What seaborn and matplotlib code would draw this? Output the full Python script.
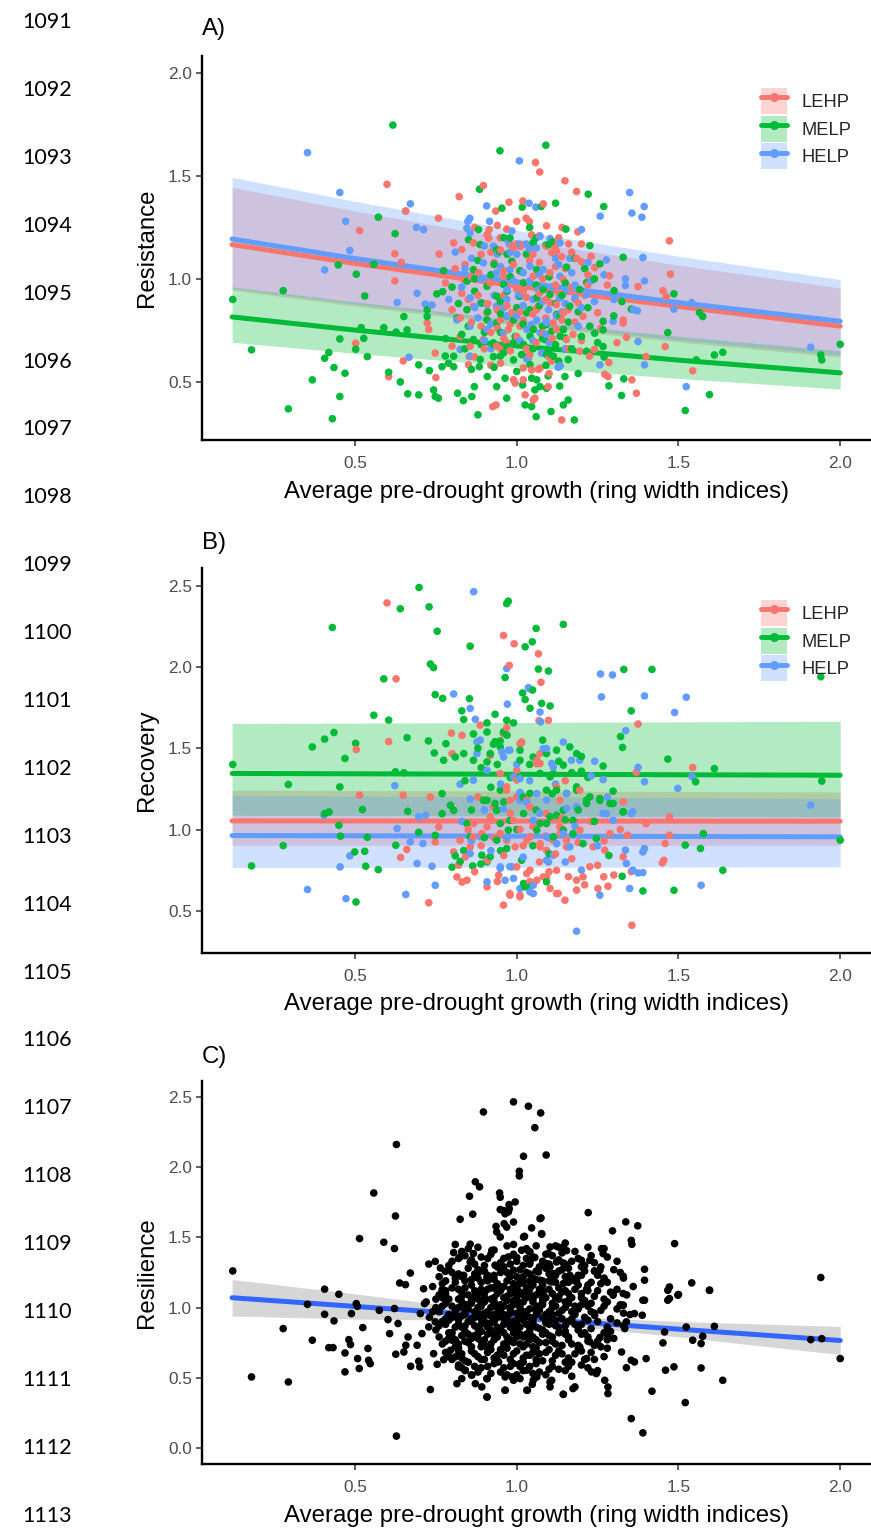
import numpy as np
import pandas as pd
import matplotlib
matplotlib.use("Agg")
import matplotlib.pyplot as plt
import seaborn as sns
from matplotlib.patches import Patch
from matplotlib.lines import Line2D

sns.set_theme(style="white")
plt.rcParams['font.family'] = ['Liberation Sans', 'DejaVu Sans']

# ---------------- DATA ----------------
groups = ["LEHP", "MELP", "HELP"]
palette = {"LEHP": "#F8766D", "MELP": "#00BA38", "HELP": "#619CFF"}

xlabel = "Average pre-drought growth (ring width indices)"
ylabels = ["Resistance", "Recovery", "Resilience"]
panel_tags = ["A)", "B)", "C)"]
xticks = [0.5, 1.0, 1.5, 2.0]
yticks_A = [0.5, 1.0, 1.5, 2.0]
yticks_B = [0.5, 1.0, 1.5, 2.0, 2.5]
yticks_C = [0.0, 0.5, 1.0, 1.5, 2.0, 2.5]
line_numbers = [str(n) for n in range(1091, 1114)]

A_LEHP = [(0.599,1.46),(0.657,1.33),(0.514,1.235),(0.758,1.295),(0.822,1.40),(0.897,1.454),(0.915,1.24),(0.91,1.214),(0.913,1.198),(0.935,1.33),(0.976,1.373),(1.058,1.566),(1.071,1.52),(1.149,1.477),(1.019,1.379),(1.029,1.295),(1.039,1.279),(1.046,1.214),(1.082,1.365),(1.092,1.258),(0.969,1.242),(1.185,1.425),(1.189,1.229),(1.472,1.185),(1.128,1.177),(1.01,1.157),(0.99,1.154),(1.108,1.128),(1.139,1.108),(1.118,1.149),(1.185,1.10),(1.20,1.084),(1.241,1.055),(1.287,1.015),(1.475,1.023),(1.375,0.963),(1.452,0.943),(1.462,0.914),(1.459,0.671),(1.329,0.80),(1.329,0.785),(1.339,0.716),(1.285,0.593),(1.272,0.536),(1.282,0.525),(1.356,0.509),(1.37,0.444),(1.544,0.553),(1.40,0.622),(1.139,0.314),(0.926,0.379),(0.936,0.387),(0.995,0.493),(1.02,0.509),(1.046,0.557),(1.097,0.476),(1.056,0.42),(1.072,0.566),(1.026,0.436),(0.623,1.122),(0.643,1.081),(0.623,0.99),(0.502,0.687),(0.604,0.525),(0.649,0.601),(0.748,0.639),(0.75,0.52),(0.851,0.582),(0.853,0.622),(1.051,0.411),
(0.805,1.175),(0.83,1.143),(0.866,1.175),(0.908,1.215),(0.949,1.20),(0.985,1.159),(1.02,1.167),(1.092,1.159),(1.123,1.134),(0.836,0.997),(0.882,1.03),(0.918,0.98),(0.959,1.013),(1.01,1.037),(1.051,1.013),(1.103,1.03),(1.144,0.997),(0.80,0.85),(0.825,0.81),(0.866,0.867),(0.908,0.835),(0.949,0.80),(0.985,0.835),(1.02,0.80),(1.062,0.85),(1.103,0.883),(1.144,0.835),(0.825,0.72),(0.856,0.673),(0.897,0.705),(0.938,0.673),(0.974,0.754),(1.01,0.77),(1.051,0.754),(1.082,0.738),(1.123,0.754),(1.154,0.705),(0.723,0.786),(0.728,0.754),(0.80,0.673),
(1.062,0.859),(1.123,0.875),(1.159,0.85),(1.19,0.883),(1.205,0.818),(1.113,0.786),(1.144,0.754),(1.174,0.73),(1.195,0.648),(1.108,0.6),(1.067,0.56),(1.02,0.567),(0.99,0.51),(0.95,0.59),(0.97,0.69),(0.92,0.74),(1.25,0.835),(1.24,0.657),(1.225,0.624),
(0.88,0.92),(0.93,1.08),(0.96,0.92),(1.0,0.95),(1.04,1.09),(1.07,0.93),(1.12,1.06),(1.17,0.96),(1.22,1.02),(0.84,1.07),
(0.81,1.05),(0.86,0.79),(0.89,1.12),(0.91,0.88),(0.94,0.76),(0.95,1.14),(0.97,0.87),(0.99,1.07),(1.0,0.72),(1.03,0.91),(1.05,1.12),(1.06,0.69),(1.08,1.0),(1.09,0.81),(1.11,0.71),(1.13,0.93),(1.15,1.05),(1.16,0.66),(1.18,0.79),(1.21,0.92),(1.23,1.11),(1.26,0.76),(1.28,0.97),(1.31,0.69),(0.83,0.93),(0.87,0.62),(0.92,0.58),(0.98,0.65),(1.04,0.63),(1.1,0.54),(0.78,0.98),(0.76,1.12),(0.94,1.26),(1.0,1.28),(1.14,1.25),(1.2,1.17),(1.01,0.84),(0.96,0.71),(1.07,1.21),(1.17,1.13),
(0.86,1.01),(0.89,0.77),(0.92,1.13),(0.94,0.85),(0.96,1.04),(0.98,0.78),(1.0,1.17),(1.02,0.94),(1.03,0.66),(1.05,0.83),(1.07,1.08),(1.09,0.9),(1.1,0.62),(1.12,0.97),(1.14,0.8),(1.16,1.17),(1.18,0.9),(1.2,0.7),(1.22,0.97),(0.85,0.9),(0.9,0.66),(0.95,0.66),(1.13,1.2),(0.87,1.25)]

A_MELP = [(0.617,1.748),(0.572,1.30),(0.624,1.22),(0.885,1.436),(0.882,1.24),(0.954,1.344),(0.948,1.623),(1.09,1.65),(1.017,1.349),(1.076,1.352),(1.12,1.368),(1.152,1.242),(1.221,1.412),(1.269,1.352),(1.226,1.162),(1.051,1.178),(1.09,1.164),(0.946,1.133),(1.154,1.057),(1.329,1.105),(1.257,1.073),(1.301,0.943),(1.486,0.927),(1.216,0.982),(1.565,0.836),(1.575,0.817),(1.467,0.739),(1.354,0.853),(1.325,0.89),(1.241,0.736),(1.267,0.752),(1.267,0.671),(1.285,0.48),(1.331,0.514),(1.324,0.433),(1.521,0.36),(1.596,0.437),(1.611,0.63),(1.637,0.643),(1.555,0.606),(1.94,0.63),(1.943,0.606),(2.0,0.682),(1.178,0.314),(1.06,0.33),(1.106,0.355),(1.026,0.387),(1.046,0.379),(1.144,0.387),(1.159,0.411),(0.969,0.42),(0.964,0.517),(0.99,0.606),(1.018,0.484),(1.046,0.517),(1.072,0.476),(1.056,0.46),(1.097,0.528),(1.133,0.479),(1.149,0.525),
(0.122,0.90),(0.18,0.655),(0.278,0.943),(0.294,0.368),(0.448,1.068),(0.504,1.023),(0.558,1.071),(0.53,0.917),(0.774,1.04),(0.753,0.927),(0.771,0.938),(0.723,0.85),(0.723,0.817),(0.651,0.817),(0.589,0.763),(0.627,0.741),(0.661,0.752),(0.519,0.763),(0.527,0.711),(0.502,0.658),(0.538,0.622),(0.453,0.708),(0.419,0.642),(0.406,0.614),(0.435,0.569),(0.469,0.541),(0.368,0.509),(0.453,0.428),(0.43,0.32),(0.604,0.546),(0.64,0.499),(0.663,0.441),(0.697,0.436),(0.697,0.582),(0.73,0.554),(0.769,0.573),(0.743,0.46),(0.758,0.42),(0.748,0.428),(0.779,0.625),(0.789,0.59),(0.805,0.573),(0.817,0.444),(0.835,0.408),(0.861,0.428),(0.88,0.339),(0.869,0.476),(0.884,0.573),(0.909,0.525),(0.938,0.476),(0.928,0.622),(1.062,0.509),(1.092,0.468),
(0.851,1.191),(0.887,1.167),(0.938,1.143),(0.979,1.199),(1.051,1.175),(1.098,1.167),(0.846,0.989),(0.908,0.964),(0.938,0.916),(1.01,0.916),(1.103,0.924),(0.815,0.81),(0.846,0.85),(0.908,0.80),(0.938,0.786),(0.969,0.819),(1.031,0.835),(1.092,0.778),(1.144,0.754),(0.866,0.705),(0.928,0.689),(0.99,0.689),(1.041,0.721),(1.087,0.705),(1.134,0.721),(0.805,0.624),(0.887,0.608),(0.959,0.64),(1.015,0.632),(1.113,0.624),(0.995,0.72),(0.892,0.883),(0.949,0.891),(1.062,0.908),(0.866,1.045),(0.985,1.086),(1.062,1.045),
(0.959,0.973),(1.021,0.981),(1.082,0.948),(1.195,0.948),(1.164,0.867),(1.123,0.827),(1.051,0.754),(1.108,0.746),(1.149,0.713),(1.092,0.632),(1.021,0.681),(0.949,0.624),(0.928,0.681),(1.041,0.583),(1.159,0.608),(1.216,0.648),(1.133,0.818),(1.267,0.794),(1.226,0.77),
(0.82,0.88),(0.84,0.66),(0.87,0.94),(0.9,0.74),(0.92,1.02),(0.95,0.83),(0.97,0.67),(0.98,1.01),(1.0,0.86),(1.02,0.78),(1.03,1.12),(1.05,0.66),(1.07,0.87),(1.08,0.71),(1.1,1.01),(1.12,0.68),(1.14,0.92),(1.16,0.79),(1.18,1.1),(1.2,0.72),(1.22,0.86),(1.24,1.0),(1.27,0.62),(1.3,0.82),(0.78,0.71),(0.8,0.96),(0.86,0.56),(0.93,0.57),(1.0,0.55),(1.09,0.58),(1.13,0.6),(0.96,1.2),(1.04,1.25),(1.11,1.18),(0.88,1.09),(1.19,0.54),
(0.85,0.77),(0.87,1.0),(0.89,0.68),(0.91,0.84),(0.93,1.07),(0.95,0.74),(0.97,0.94),(0.99,0.8),(1.01,1.04),(1.03,0.62),(1.04,0.85),(1.06,0.97),(1.08,0.77),(1.1,0.64),(1.12,0.88),(1.15,0.98),(1.17,0.66),(1.19,0.84),(1.21,1.05),(0.83,0.73),(0.97,1.12),(1.06,1.2),(1.25,0.69)]

A_HELP = [(0.353,1.614),(0.453,1.42),(0.671,1.365),(0.656,1.33),(0.471,1.28),(0.69,1.25),(0.712,1.24),(0.855,1.295),(0.849,1.28),(0.846,1.246),(0.907,1.355),(0.916,1.28),(1.008,1.574),(1.038,1.368),(1.059,1.349),(0.985,1.233),(1.103,1.196),(1.349,1.42),(1.356,1.32),(1.387,1.30),(1.394,1.352),(1.258,1.305),(1.01,1.169),(1.039,1.145),(0.977,1.17),(1.164,1.10),(1.39,1.104),(1.277,1.092),(1.336,1.0),(1.336,0.968),(1.395,0.99),(1.486,0.853),(1.541,0.885),(1.375,0.695),(1.361,0.85),(1.373,0.845),(1.257,0.582),(1.395,0.582),(1.524,0.476),(1.909,0.668),(1.036,0.614),(1.133,0.577),(1.077,0.639),(0.484,1.138),(0.406,1.044),(0.63,0.885),(0.692,0.93),(0.717,0.878),(0.738,0.873),(0.667,0.619),
(0.856,1.224),(0.928,1.159),(0.974,1.183),(1.072,1.207),(1.134,1.175),(0.897,1.078),(0.938,1.03),(0.979,1.045),(1.041,1.062),(1.082,1.045),(1.134,1.013),(1.154,0.948),(0.856,0.908),(0.887,0.883),(0.938,0.867),(0.969,0.90),(1.01,0.924),(1.062,0.80),(1.092,0.786),(1.123,0.819),(0.815,0.80),(0.856,0.77),(0.908,0.754),(0.959,0.738),(1.031,0.754),(1.072,0.738),(0.825,0.657),(0.856,0.624),(1.134,0.576),(1.098,0.85),
(0.908,0.875),(0.97,0.948),(1.005,0.916),(1.067,0.948),(1.046,0.778),(1.092,0.794),(1.133,0.907),(1.18,0.907),(1.216,0.924),(1.298,0.794),(1.031,0.61),(1.077,0.64),(1.128,0.57),
(0.83,0.96),(0.86,1.1),(0.88,0.81),(0.9,1.16),(0.93,0.92),(0.95,1.06),(0.97,0.82),(0.99,0.99),(1.0,1.12),(1.02,0.87),(1.04,0.99),(1.06,1.15),(1.08,0.89),(1.1,0.69),(1.12,1.1),(1.14,0.84),(1.17,1.03),(1.19,0.77),(1.22,1.08),(1.24,0.89),(1.27,1.02),(1.3,0.9),(0.81,1.13),(0.92,0.66),(1.01,0.7),(1.15,0.66),(1.2,1.24),(0.79,0.9),
(0.84,1.05),(0.87,0.86),(0.89,1.0),(0.92,0.78),(0.94,1.12),(0.96,0.86),(0.98,1.13),(1.0,0.82),(1.02,1.03),(1.03,1.17),(1.05,0.9),(1.07,1.02),(1.09,0.73),(1.11,0.96),(1.13,1.07),(1.15,0.88),(1.18,0.97),(1.2,0.86),(1.23,0.99),(0.9,0.7),(1.05,0.7)]

B_LEHP = [(0.504,1.492),(0.627,1.927),(0.599,2.394),(0.604,1.541),(0.798,1.593),(0.831,1.579),(0.80,1.467),(0.887,1.642),(0.969,1.626),(0.959,2.194),(0.992,2.143),(0.977,2.01),(1.067,2.081),(1.075,1.906),(1.069,1.67),(1.015,1.533),(0.918,1.456),(0.949,1.344),(1.0,1.364),(1.062,1.405),(1.072,1.467),(0.969,1.262),(1.01,1.528),(0.514,1.211),(0.649,1.211),(0.733,1.2),(1.098,1.672),(1.375,1.649),(1.544,1.382),(1.37,1.351),(0.959,1.59),(1.015,1.539),(1.062,1.426),(1.072,1.406),(1.0,1.304),(0.969,1.242),(1.031,1.181),(1.123,1.262),(1.195,1.242),(1.329,1.17),(1.472,1.078),
(0.641,0.828),(0.66,0.877),(0.728,0.549),(0.748,0.924),(0.759,1.016),
(0.805,0.862),(0.825,0.934),(0.841,0.831),(0.856,0.893),(0.866,0.955),(0.892,0.975),(0.908,1.016),(0.923,1.057),(0.949,0.975),(0.969,0.934),(0.995,0.893),(1.01,1.0),(1.041,0.955),(1.072,0.913),(1.092,0.872),(1.113,0.934),(1.134,0.975),(1.154,0.893),(0.846,0.688),(0.831,0.677),(0.908,0.647),(0.979,0.596),(1.01,0.596),(1.031,0.729),(1.062,0.688),(1.092,0.708),(1.123,0.749),(1.123,0.606),(0.959,0.535),(0.815,0.708),(0.866,1.037),(0.928,1.139),(0.979,1.18),
(1.356,0.411),(1.472,0.965),(1.459,0.914),(1.455,0.811),(1.45,0.795),(1.40,1.036),(1.342,0.965),(1.329,0.832),(1.354,0.741),(1.288,0.975),(1.272,0.873),(1.269,0.709),(1.251,0.637),(1.282,0.651),(1.226,0.771),(1.205,0.709),(1.185,0.627),(1.128,0.606),(1.185,0.688),(1.149,0.565),(1.103,0.637),(1.082,0.709),(1.041,0.75),(0.944,0.719),(0.979,0.606),(1.01,0.586),(0.99,1.057),(1.041,1.139),(1.092,1.098),(1.133,1.016),(1.154,0.934),(1.195,0.996),(1.236,0.893),(1.072,0.893),(1.031,0.934),(0.949,0.975),(0.918,1.078),(1.133,1.180),
(0.82,0.78),(0.85,1.0),(0.87,0.74),(0.89,0.9),(0.91,0.81),(0.93,0.95),(0.94,0.68),(0.96,0.84),(0.98,1.1),(1.0,0.77),(1.02,0.9),(1.04,0.68),(1.05,1.02),(1.07,0.8),(1.09,0.96),(1.1,0.74),(1.12,0.85),(1.14,1.07),(1.16,0.71),(1.17,0.82),(1.19,0.92),(1.21,0.66),(1.23,1.05),(1.25,0.78),(1.27,0.93),(1.3,0.72),(1.32,1.0),(0.88,1.2),(1.0,1.2),(1.15,1.3)]

B_MELP = [(0.122,1.40),(0.294,1.277),(0.368,1.508),(0.406,1.556),(0.435,1.597),(0.43,2.243),(0.469,1.437),(0.453,1.262),(0.502,1.53),(0.558,1.703),(0.589,1.927),(0.64,2.358),(0.604,1.673),(0.661,1.565),(0.625,1.355),(0.651,1.349),(0.698,2.489),(0.729,2.37),(0.754,2.22),(0.733,2.018),(0.743,1.996),(0.748,1.83),(0.771,1.807),(0.727,1.545),(0.745,1.471),(0.774,1.426),(0.781,1.528),(0.856,2.128),(0.969,2.39),(0.974,2.405),(0.854,1.805),(0.83,1.73),(0.836,1.677),(0.908,1.656),(0.933,1.709),(0.969,1.672),(0.99,1.656),(0.866,1.588),(0.908,1.6),(0.933,1.54),(0.949,1.545),(0.959,1.6),(0.964,1.935),(1.018,1.84),(1.026,1.8),(1.049,1.858),(1.06,2.237),(1.048,2.155),(1.026,2.124),(1.067,1.987),(1.098,1.975),(1.077,1.776),(1.103,1.76),(1.041,1.746),(1.144,2.262),(0.81,1.446),(0.836,1.467),(0.866,1.426),(0.918,1.467),(0.949,1.508),(1.01,1.426),(1.051,1.446),(1.092,1.467),(1.113,1.344),
(1.331,1.985),(1.418,1.985),(1.354,1.73),(1.321,1.572),(1.327,1.505),(1.467,1.433),(1.611,1.375),(1.553,1.294),(1.943,1.298),(1.94,1.94),(1.267,1.39),(1.298,1.236),(1.2,1.359),
(0.928,1.525),(1.01,1.488),(1.123,1.488),(1.164,1.508),(1.185,1.467),(1.144,1.396),(1.103,1.324),(1.072,1.345),(1.01,1.324),(0.949,1.242),(1.041,1.222),(1.092,1.242),(1.154,1.222),(1.185,1.242),(1.226,1.201),(1.257,1.19),(0.908,1.416),(0.933,1.16),(1.288,1.16),(1.329,1.109),(1.216,1.181),(1.123,1.088),
(0.18,0.776),(0.278,0.901),(0.406,1.098),(0.42,1.108),(0.45,1.026),(0.455,0.959),(0.503,0.554),(0.499,0.862),(0.53,0.866),(0.523,1.123),(0.538,0.952),(0.533,0.774),(0.572,0.753),(0.663,1.112),(0.697,0.983),(0.626,0.903),(0.748,0.964),(0.769,1.097),(0.769,1.221),(0.795,1.149),(0.8,0.768),(0.81,0.838),(0.825,0.803),(0.836,0.871),(0.864,0.776),(0.889,0.788),(0.908,0.813),(0.918,0.833),
(0.805,1.118),(0.846,1.037),(0.897,1.18),(0.938,1.118),(0.949,1.037),(0.974,0.996),(1.062,0.996),(1.092,1.037),(1.113,0.955),(1.144,0.996),(0.856,0.955),(0.938,0.934),(0.969,0.883),(1.015,0.811),(1.026,0.647),
(1.39,0.622),(1.486,0.626),(1.637,0.749),(1.521,0.904),(1.568,0.883),(1.577,0.975),(2.0,0.934),(1.326,0.712),(1.285,0.84),(1.246,0.944),(1.205,0.913),(1.021,0.668),(1.041,0.647),(1.092,0.678),(0.908,0.801),(0.892,0.842),
(0.908,1.18),(0.938,1.119),(0.979,1.057),(1.021,1.098),(1.072,1.037),(1.103,1.078),(1.144,1.119),(1.174,1.057),(1.216,1.16),(1.257,1.18),(1.298,1.16),(1.329,1.109),(1.174,0.975),(1.123,1.242),(1.185,1.262),
(0.84,1.3),(0.86,1.12),(0.89,1.38),(0.92,1.26),(0.94,1.4),(0.96,1.17),(0.98,1.32),(1.0,1.0),(1.02,1.2),(1.04,1.4),(1.06,1.12),(1.08,1.55),(1.11,1.22),(1.13,1.42),(1.15,1.06),(1.17,1.35),(1.19,1.12),(1.22,1.32),(1.24,1.05),(0.9,0.95),(0.95,0.87),(1.05,0.9),(1.1,0.85),(1.2,1.45),(0.88,1.5),(0.97,1.58)]

B_HELP = [(0.623,1.27),(0.805,1.834),(0.867,2.463),(0.856,1.745),(0.872,1.678),(0.887,1.55),(0.877,1.54),(0.969,1.99),(0.971,1.771),(1.036,1.873),(1.072,1.723),(1.074,1.662),(0.877,1.467),(0.959,1.446),(0.974,1.487),(1.082,1.497),(1.144,1.538),(1.113,1.385),(1.01,1.313),(0.908,1.364),(0.866,1.303),(1.039,1.866),(1.259,1.957),(1.296,1.951),(1.262,1.816),(1.395,1.822),(1.524,1.814),(1.488,1.72),(1.337,1.608),(1.375,1.382),(1.395,1.294),(1.498,1.253),(1.542,1.325),(1.909,1.15),(1.241,1.42),(1.267,1.307),(0.954,1.477),(0.979,1.488),(1.092,1.498),(1.169,1.426),(1.195,1.426),(1.108,1.406),(0.99,1.324),(1.01,1.222),(1.092,1.181),(1.154,1.13),(1.185,1.14),(1.267,1.099),(1.359,1.109),
(0.353,0.631),(0.404,1.088),(0.454,0.77),(0.484,0.838),(0.472,0.575),(0.63,1.006),(0.671,0.924),(0.692,0.791),(0.71,0.914),(0.738,0.774),(0.748,0.657),(0.657,0.6),(0.718,1.088),(0.697,1.078),
(0.825,1.279),(0.856,1.187),(0.959,1.126),(1.01,1.228),(1.031,1.167),(1.092,0.955),(1.123,0.913),(1.144,0.975),(1.051,1.057),(0.856,0.852),(0.887,0.955),(0.949,0.761),(0.979,0.771),(0.99,0.699),(0.908,0.678),(1.051,0.657),(1.041,0.616),(1.092,0.811),
(1.185,0.374),(1.349,0.637),(1.257,0.596),(1.57,0.657),(1.336,0.873),(1.339,0.791),(1.359,0.75),(1.375,0.733),(1.39,0.735),(1.395,0.883),(1.39,0.862),(0.949,0.77),(0.985,0.77),(0.964,0.688),(1.01,0.637),(1.051,0.606),(1.098,0.8),(1.113,0.842),(1.164,0.893),(1.01,1.18),(1.062,1.221),(1.154,1.221),(1.185,1.139),(1.277,1.098),(1.354,1.098),(1.298,1.057),
(0.83,1.05),(0.86,0.93),(0.9,1.12),(0.92,0.87),(0.95,1.28),(0.97,0.95),(1.0,1.4),(1.02,0.83),(1.04,1.3),(1.07,1.1),(1.1,0.95),(1.12,1.28),(1.15,0.8),(1.18,1.02),(1.2,0.75),(1.23,1.33),(1.25,0.9),(1.28,1.2)]

C_ALL = [(0.122,1.261),(0.406,1.131),(0.45,1.095),(0.514,1.492),(0.558,1.817),(0.589,1.466),(0.622,1.421),(0.625,1.653),(0.628,2.163),(0.638,1.175),(0.656,1.163),(0.671,1.246),(0.712,1.134),(0.728,1.31),(0.748,1.329),(0.764,1.282),(0.779,1.258),(0.769,1.127),(0.805,1.392),(0.825,1.361),(0.836,1.23),(0.856,1.452),(0.866,1.385),(0.856,1.326),(0.887,1.258),(0.908,1.199),(0.928,1.14),(0.825,1.63),(0.854,1.794),(0.864,1.666),(0.872,1.897),(0.885,1.861),(0.897,2.395),(0.923,1.408),(0.949,1.503),(0.969,1.574),(0.99,1.61),(0.949,1.787),(0.959,1.692),(0.977,1.704),(0.938,1.539),(0.974,1.682),(0.995,1.753),(0.99,2.467),(1.036,2.436),(1.074,2.388),(1.056,2.283),(1.008,1.972),(1.021,2.079),(1.091,2.088),(1.072,1.634),(1.077,1.527),(1.021,1.503),(1.036,1.404),(1.056,1.357),(1.092,1.314),(1.128,1.432),(1.144,1.318),(1.113,1.242),(1.0,1.357),(0.974,1.242),(1.01,1.194),(1.041,1.147),(1.082,1.111),(1.154,1.406),
(1.008,1.939),(0.947,1.817),(0.976,1.734),(0.949,1.699),(0.964,1.669),(0.936,1.579),(0.961,1.598),(1.075,1.639),(1.046,1.568),(1.077,1.523),(1.024,1.508),(1.221,1.677),(1.296,1.547),(1.337,1.611),(1.374,1.583),(1.354,1.479),(1.356,1.451),(1.488,1.456),(1.94,1.214),(0.99,1.373),(1.015,1.409),(1.041,1.397),(1.103,1.432),(1.144,1.432),(1.098,1.385),(1.2,1.337),(1.226,1.337),(1.262,1.42),(1.267,1.385),(1.241,1.261),(1.257,1.266),(1.27,1.195),(1.329,1.224),(1.395,1.273),(1.395,1.195),(1.395,1.052),(1.472,1.147),(1.467,1.052),(1.5,1.093),(1.541,1.176),(1.596,1.124),(1.329,1.1),(1.329,1.017),(1.298,1.1),(1.216,1.131),(1.185,1.195),(1.164,1.23),(1.144,1.171),(1.108,1.183),(1.067,1.254),(0.99,1.266),(1.041,1.325),(1.123,1.325),(1.154,1.29),(1.103,1.29),(1.072,1.195),(1.01,1.1),(0.949,1.147),(0.908,1.219),(0.933,1.302),(0.974,1.361),
(0.18,0.505),(0.294,0.469),(0.278,0.85),(0.368,0.767),(0.353,1.023),(0.406,0.952),(0.435,0.905),(0.504,1.028),(0.507,1.009),(0.489,0.957),(0.524,0.857),(0.575,0.98),(0.602,0.914),(0.622,0.993),(0.633,0.886),(0.607,0.814),(0.419,0.714),(0.432,0.714),(0.481,0.771),(0.486,0.736),(0.469,0.676),(0.54,0.708),(0.542,0.624),(0.547,0.6),(0.508,0.636),(0.513,0.565),(0.469,0.541),(0.626,0.667),(0.657,0.731),(0.651,0.683),(0.664,0.79),(0.692,0.731),(0.672,0.581),(0.7,0.577),(0.697,0.617),(0.733,0.415),(0.628,0.083),(0.754,0.595),(0.774,0.628),(0.743,0.671),(0.707,0.814),(0.728,0.862),(0.748,0.898),(0.702,0.957),(0.715,1.028),(0.795,0.695),(0.8,0.767),(0.81,0.648),(0.82,0.576),(0.841,0.553),(0.861,0.517),(0.872,0.457),(0.892,0.434),(0.815,0.457),(0.83,0.493),(0.908,0.493),(0.908,0.362),(0.964,0.41),(0.985,0.505),(1.01,0.493),(1.033,0.41),(1.048,0.452),(1.062,0.505),(1.103,0.469),(1.144,0.381),
(2.0,0.636),(1.909,0.771),(1.943,0.778),(1.637,0.481),(1.521,0.322),(1.354,0.208),(1.39,0.106),(1.418,0.403),(1.46,0.553),(1.486,0.577),(1.57,0.569),(1.611,0.866),(1.524,0.861),(1.575,0.795),(1.544,0.767),(1.57,0.743),(1.457,0.826),(1.452,0.748),(1.596,1.123),(1.498,1.088),(1.472,1.064),(1.467,1.123),(1.39,1.052),(1.329,1.016),(1.298,1.088),(1.364,0.957),(1.388,0.945),(1.339,0.898),(1.334,0.85),(1.40,0.636),(1.339,0.571),(1.364,0.612),(1.324,0.683),(1.354,0.624),(1.282,0.386),(1.282,0.433),(1.272,0.481),(1.241,0.944),(1.257,0.786),(1.282,0.786),(1.226,0.755),(1.231,0.541),(1.246,0.529),(1.195,0.719),(1.216,0.636),(1.174,0.422),(1.18,0.434),(1.144,0.381),(1.108,0.481),(1.103,0.434),(1.051,0.481),(1.031,0.41),(0.964,0.41),(0.908,0.362),(0.908,0.493),(0.964,0.505),(0.944,0.612),(0.99,0.481),(1.01,0.6),(1.031,0.553),
(0.83,1.40),(0.88,1.43),(0.93,1.41),(0.97,1.44),(1.03,1.42),(1.12,1.44),(1.18,1.40),(1.22,1.43),
(0.80,1.33),(0.84,1.37),(0.87,1.31),(0.91,1.35),(0.95,1.32),(0.99,1.38),(1.02,1.30),(1.05,1.36),(1.08,1.33),(1.11,1.37),(1.15,1.31),(1.19,1.35),(1.24,1.32),(1.28,1.36),
(0.76,1.22),(0.79,1.27),(0.82,1.24),(0.85,1.28),(0.88,1.21),(0.90,1.26),(0.93,1.23),(0.96,1.29),(0.98,1.22),(1.01,1.27),(1.04,1.24),(1.06,1.20),(1.09,1.28),(1.12,1.23),(1.14,1.27),(1.17,1.21),(1.21,1.26),(1.25,1.23),(1.30,1.27),(1.33,1.21),
(0.74,1.15),(0.78,1.12),(0.81,1.18),(0.83,1.11),(0.86,1.16),(0.89,1.13),(0.91,1.19),(0.94,1.10),(0.96,1.15),(0.99,1.12),(1.01,1.17),(1.03,1.11),(1.05,1.16),(1.07,1.13),(1.10,1.19),(1.13,1.14),(1.16,1.10),(1.19,1.16),(1.22,1.12),(1.26,1.17),(1.31,1.13),(1.36,1.15),
(0.72,1.04),(0.77,1.07),(0.80,1.01),(0.82,1.06),(0.84,1.02),(0.87,1.08),(0.89,1.03),(0.92,1.06),(0.94,1.00),(0.97,1.05),(0.99,1.02),(1.00,1.08),(1.02,1.04),(1.04,1.09),(1.06,1.01),(1.08,1.06),(1.11,1.03),(1.13,1.08),(1.15,1.04),(1.18,1.01),(1.20,1.07),(1.23,1.03),(1.27,1.06),(1.32,1.02),
(0.73,0.93),(0.76,0.97),(0.79,0.91),(0.81,0.95),(0.84,0.98),(0.86,0.92),(0.88,0.96),(0.90,0.90),(0.92,0.94),(0.95,0.99),(0.97,0.92),(0.98,0.96),(1.00,0.91),(1.02,0.97),(1.04,0.93),(1.07,0.98),(1.09,0.91),(1.11,0.95),(1.14,0.92),(1.17,0.97),(1.21,0.93),(1.24,0.96),(1.29,0.92),(1.35,0.95),
(0.75,0.84),(0.78,0.88),(0.80,0.82),(0.83,0.86),(0.85,0.81),(0.87,0.87),(0.89,0.83),(0.91,0.88),(0.93,0.80),(0.95,0.85),(0.97,0.89),(0.99,0.82),(1.01,0.86),(1.03,0.81),(1.05,0.88),(1.08,0.84),(1.10,0.80),(1.12,0.87),(1.15,0.83),(1.18,0.88),(1.20,0.81),(1.23,0.85),(1.27,0.82),(1.33,0.87),
(0.77,0.74),(0.79,0.78),(0.82,0.71),(0.84,0.76),(0.86,0.72),(0.88,0.78),(0.90,0.73),(0.93,0.77),(0.95,0.70),(0.97,0.75),(1.00,0.79),(1.02,0.72),(1.04,0.77),(1.06,0.71),(1.09,0.75),(1.11,0.79),(1.14,0.73),(1.16,0.77),(1.19,0.71),(1.22,0.76),(1.26,0.72),(1.30,0.78),
(0.80,0.63),(0.83,0.67),(0.85,0.61),(0.88,0.65),(0.91,0.68),(0.94,0.62),(0.96,0.66),(0.99,0.60),(1.02,0.64),(1.05,0.68),(1.08,0.62),(1.12,0.66),(1.15,0.61),(1.18,0.67),(1.21,0.63),(1.27,0.65),
(0.84,0.55),(0.87,0.58),(0.92,0.53),(0.96,0.57),(1.00,0.52),(1.04,0.58),(1.07,0.54),(1.13,0.56),(1.17,0.51),(1.22,0.57),
(0.82,1.35),(0.86,1.34),(0.89,1.36),(0.94,1.29),(0.98,1.31),(1.03,1.35),(1.07,1.29),(1.10,1.31),(1.13,1.34),(1.16,1.28),(1.21,1.30),(1.26,1.29),
(0.78,1.19),(0.81,1.21),(0.84,1.19),(0.87,1.24),(0.89,1.18),(0.92,1.21),(0.94,1.17),(0.95,1.25),(0.97,1.19),(1.00,1.22),(1.02,1.18),(1.03,1.25),(1.05,1.21),(1.08,1.19),(1.10,1.24),(1.12,1.18),(1.15,1.22),(1.18,1.19),(1.20,1.23),(1.23,1.18),(1.27,1.21),
(0.76,1.09),(0.79,1.06),(0.82,1.13),(0.85,1.09),(0.87,1.12),(0.88,1.06),(0.90,1.10),(0.92,1.14),(0.93,1.07),(0.95,1.12),(0.97,1.08),(0.98,1.13),(1.00,1.06),(1.01,1.11),(1.03,1.07),(1.04,1.13),(1.06,1.09),(1.08,1.12),(1.09,1.07),(1.11,1.10),(1.13,1.06),(1.15,1.12),(1.17,1.07),(1.20,1.10),(1.24,1.08),(1.29,1.11),
(0.75,1.00),(0.78,1.03),(0.81,0.98),(0.83,1.04),(0.85,0.99),(0.86,1.05),(0.88,1.00),(0.90,1.04),(0.91,0.97),(0.93,1.03),(0.94,0.96),(0.96,1.01),(0.98,0.98),(0.99,1.05),(1.01,1.00),(1.03,0.97),(1.05,1.04),(1.06,0.98),(1.08,1.02),(1.10,0.97),(1.12,1.01),(1.14,0.98),(1.16,1.03),(1.19,0.99),(1.22,1.01),(1.26,0.98),(1.31,0.99),
(0.77,0.90),(0.80,0.93),(0.82,0.88),(0.83,0.94),(0.85,0.90),(0.87,0.93),(0.89,0.88),(0.90,0.94),(0.92,0.89),(0.94,0.93),(0.96,0.88),(0.97,0.94),(0.99,0.90),(1.01,0.93),(1.03,0.88),(1.05,0.92),(1.06,0.86),(1.08,0.93),(1.10,0.88),(1.12,0.91),(1.15,0.87),(1.17,0.92),(1.20,0.88),(1.25,0.90),(1.31,0.89),
(0.76,0.79),(0.79,0.82),(0.81,0.77),(0.84,0.83),(0.86,0.78),(0.88,0.81),(0.90,0.77),(0.92,0.84),(0.94,0.79),(0.96,0.82),(0.98,0.77),(1.00,0.84),(1.02,0.79),(1.04,0.83),(1.06,0.77),(1.08,0.81),(1.11,0.76),(1.13,0.82),(1.16,0.79),(1.19,0.84),(1.22,0.79),(1.25,0.76),(1.29,0.83),
(0.78,0.68),(0.81,0.72),(0.83,0.64),(0.86,0.69),(0.89,0.72),(0.90,0.63),(0.92,0.70),(0.94,0.66),(0.97,0.71),(0.99,0.67),(1.01,0.74),(1.03,0.66),(1.05,0.72),(1.07,0.67),(1.10,0.70),(1.13,0.69),(1.16,0.64),(1.19,0.73),(1.23,0.68),(1.28,0.71),
(0.82,0.59),(0.86,0.52),(0.89,0.57),(0.93,0.60),(0.95,0.54),(0.98,0.58),(1.02,0.55),(1.06,0.60),(1.09,0.52),(1.11,0.58),(1.15,0.55),(1.20,0.59),(1.25,0.55),
(0.79,1.30),(0.85,1.42),(0.90,1.30),(0.92,1.38),(0.96,1.35),(1.00,1.33),(1.04,1.31),(1.06,1.44),(1.09,1.38),(1.14,1.39),(1.17,1.33),(1.20,1.29),(1.23,1.37),(1.27,1.42),(1.31,1.33),(0.81,1.45),(0.99,1.45),(1.15,1.46),
(0.77,1.17),(0.80,1.25),(0.83,1.22),(0.86,1.20),(0.88,1.27),(0.91,1.23),(0.93,1.20),(0.97,1.25),(0.99,1.17),(1.02,1.22),(1.04,1.19),(1.06,1.26),(1.08,1.16),(1.11,1.21),(1.13,1.26),(1.16,1.18),(1.19,1.23),(1.22,1.16),(1.24,1.26),(1.28,1.18),(1.32,1.25),
(0.75,1.06),(0.78,1.10),(0.80,1.14),(0.83,1.08),(0.84,1.14),(0.86,1.03),(0.88,1.10),(0.90,1.07),(0.91,1.13),(0.93,1.04),(0.94,1.14),(0.96,1.07),(0.98,1.10),(0.99,1.04),(1.00,1.14),(1.02,1.09),(1.03,1.14),(1.05,1.06),(1.07,1.10),(1.08,1.04),(1.10,1.13),(1.12,1.07),(1.14,1.11),(1.16,1.05),(1.18,1.13),(1.21,1.05),(1.25,1.12),(1.28,1.04),(1.34,1.09),
(0.74,0.97),(0.77,1.01),(0.79,0.95),(0.82,1.00),(0.84,0.95),(0.85,1.02),(0.87,0.97),(0.89,1.01),(0.90,0.96),(0.92,1.00),(0.93,0.95),(0.95,1.02),(0.96,0.95),(0.98,1.00),(1.00,0.96),(1.01,1.03),(1.02,0.94),(1.04,0.99),(1.06,0.95),(1.07,1.01),(1.09,0.95),(1.11,1.00),(1.13,0.96),(1.15,1.00),(1.18,0.95),(1.20,1.02),(1.23,0.97),(1.27,1.01),(1.33,0.96),
(0.76,0.87),(0.78,0.92),(0.81,0.86),(0.82,0.91),(0.84,0.87),(0.86,0.90),(0.88,0.85),(0.89,0.92),(0.91,0.86),(0.93,0.90),(0.94,0.86),(0.96,0.92),(0.98,0.86),(1.00,0.88),(1.02,0.91),(1.04,0.86),(1.05,0.90),(1.07,0.85),(1.09,0.89),(1.11,0.92),(1.13,0.86),(1.16,0.90),(1.19,0.86),(1.22,0.91),(1.28,0.86),
(0.78,0.76),(0.80,0.79),(0.82,0.74),(0.83,0.80),(0.85,0.75),(0.87,0.80),(0.89,0.76),(0.91,0.81),(0.92,0.74),(0.94,0.82),(0.96,0.74),(0.97,0.79),(0.99,0.75),(1.01,0.81),(1.03,0.74),(1.05,0.79),(1.07,0.75),(1.09,0.82),(1.12,0.74),(1.15,0.81),(1.17,0.74),(1.21,0.82),(1.24,0.73),(1.28,0.77),
(0.79,0.65),(0.82,0.69),(0.84,0.62),(0.87,0.67),(0.89,0.63),(0.91,0.71),(0.93,0.64),(0.95,0.68),(0.98,0.63),(1.00,0.69),(1.02,0.61),(1.04,0.66),(1.06,0.63),(1.09,0.68),(1.11,0.62),(1.14,0.67),(1.17,0.61),(1.20,0.69),(1.24,0.63),
(0.83,0.57),(0.88,0.54),(0.91,0.58),(0.97,0.52),(1.01,0.58),(1.05,0.53),(1.10,0.56),(1.16,0.58)]

# fitted model lines and confidence ribbons
fit_x_A = [0.12, 0.5, 1.0, 1.5, 2.0]
fit_A = {"LEHP": [1.167, 1.075, 0.965, 0.866, 0.770],
         "MELP": [0.815, 0.751, 0.674, 0.605, 0.543],
         "HELP": [1.194, 1.099, 0.986, 0.885, 0.794]}
lo_A = {"LEHP": [0.945, 0.868, 0.776, 0.694, 0.620],
        "MELP": [0.692, 0.638, 0.574, 0.516, 0.464],
        "HELP": [0.955, 0.878, 0.786, 0.704, 0.630]}
hi_A = {"LEHP": [1.446, 1.330, 1.190, 1.067, 0.956],
        "MELP": [0.961, 0.888, 0.800, 0.721, 0.650],
        "HELP": [1.494, 1.377, 1.236, 1.110, 0.997]}

fit_x_B = [0.12, 2.0]
fit_B = {"LEHP": [1.053, 1.051], "MELP": [1.345, 1.334], "HELP": [0.963, 0.955]}
lo_B = {"LEHP": [0.903, 0.903], "MELP": [1.088, 1.078], "HELP": [0.766, 0.770]}
hi_B = {"LEHP": [1.242, 1.231], "MELP": [1.652, 1.666], "HELP": [1.211, 1.190]}

fit_x_C = [0.12, 0.5, 0.8, 1.0, 1.2, 1.5, 2.0]
fit_C = [1.070, 1.008, 0.960, 0.927, 0.895, 0.846, 0.765]
lo_C = [0.940, 0.918, 0.910, 0.895, 0.860, 0.791, 0.665]
hi_C = [1.200, 1.098, 1.010, 0.959, 0.930, 0.901, 0.865]

# ---------------- FIGURE ----------------
W, H = 871, 1528
fig = plt.figure(figsize=(W / 100, H / 100), dpi=100)

def px_axes(left, top, right, bottom):
    return fig.add_axes([left / W, 1 - bottom / H, (right - left) / W, (bottom - top) / H])

axA = px_axes(201.7, 56, 870.6, 440)
axB = px_axes(201.7, 568, 870.6, 952.7)
axC = px_axes(201.7, 1080.7, 870.6, 1464)

FS_TITLE = 17.3
FS_TICK = 12.4
PT_SIZE = 30

def style(ax, ylim, yticks, ylabel):
    ax.set_xlim(0.026, 2.094)
    ax.set_ylim(*ylim)
    ax.set_xticks(xticks)
    ax.set_xticklabels([f"{t:.1f}" for t in xticks])
    ax.set_yticks(yticks)
    ax.set_yticklabels([f"{t:.1f}" for t in yticks])
    for s in ["top", "right"]:
        ax.spines[s].set_visible(False)
    for s in ["left", "bottom"]:
        ax.spines[s].set_linewidth(1.7)
        ax.spines[s].set_color("black")
    ax.tick_params(axis="both", direction="out", length=4, width=1.1, color="#333333",
                   labelcolor="#4D4D4D", labelsize=FS_TICK, bottom=True, left=True)
    ax.tick_params(axis="y", pad=3)
    ax.tick_params(axis="x", pad=7.5)
    ax.set_xlabel(xlabel, fontsize=FS_TITLE, color="black", labelpad=7)
    ax.set_ylabel(ylabel, fontsize=FS_TITLE, color="black", labelpad=7)
    ax.set_facecolor("white")
    ax.grid(False)

def make_df(sets):
    frames = []
    for g, pts in zip(groups, sets):
        arr = np.array(pts)
        frames.append(pd.DataFrame({"x": arr[:, 0], "y": arr[:, 1], "group": g}))
    return pd.concat(frames).sort_values("x", kind="mergesort").reset_index(drop=True)

def grouped_panel(ax, df, fx, fits, los, his):
    for g in groups:
        ax.fill_between(fx, los[g], his[g], color=palette[g], alpha=0.3, lw=0, zorder=1)
    for g in groups:
        sns.lineplot(x=fx, y=fits[g], color=palette[g], lw=3.6, ax=ax, zorder=2)
    sns.scatterplot(data=df, x="x", y="y", hue="group", palette=palette, s=PT_SIZE,
                    edgecolor="none", linewidth=0, legend=False, ax=ax, zorder=3)
    handles = []
    for g in groups:
        handles.append((Patch(facecolor=palette[g], alpha=0.3, edgecolor="none"),
                        Line2D([0], [0], color=palette[g], lw=3.5, marker="o", ms=5.5)))
    ax.legend(handles=handles, labels=groups, loc="upper left",
              bbox_to_anchor=(0.836, 0.917), frameon=False, fontsize=13.2,
              handlelength=1.4, handleheight=1.8, handletextpad=0.8,
              labelspacing=0.1, borderaxespad=0, borderpad=0)

dfA = make_df([A_LEHP, A_MELP, A_HELP])
grouped_panel(axA, dfA, fit_x_A, fit_A, lo_A, hi_A)
style(axA, (0.2165, 2.084), yticks_A, ylabels[0])

dfB = make_df([B_LEHP, B_MELP, B_HELP])
grouped_panel(axB, dfB, fit_x_B, fit_B, lo_B, hi_B)
style(axB, (0.242, 2.609), yticks_B, ylabels[1])

arrC = np.array(C_ALL)
dfC = pd.DataFrame({"x": arrC[:, 0], "y": arrC[:, 1]})
axC.fill_between(fit_x_C, lo_C, hi_C, color="#999999", alpha=0.4, lw=0, zorder=1)
sns.lineplot(x=fit_x_C, y=fit_C, color="#3366FF", lw=3.6, ax=axC, zorder=2)
sns.scatterplot(data=dfC, x="x", y="y", color="black", s=PT_SIZE, edgecolor="none",
                linewidth=0, legend=False, ax=axC, zorder=3)
style(axC, (-0.116, 2.618), yticks_C, ylabels[2])

# panel tags
for tag, ypx in zip(panel_tags, [29, 543, 1057]):
    fig.text(202 / W, 1 - ypx / H, tag, fontsize=FS_TITLE, ha="left", va="center", color="black")

# manuscript line numbers
for i, lab in enumerate(line_numbers):
    ypx = 22 + i * 67.9
    fig.text(22 / W, 1 - ypx / H, lab, fontsize=15.5, ha="left", va="center",
             color="black", family=["Lato", "DejaVu Sans"])

fig.savefig("out.png", dpi=100, facecolor="white")
